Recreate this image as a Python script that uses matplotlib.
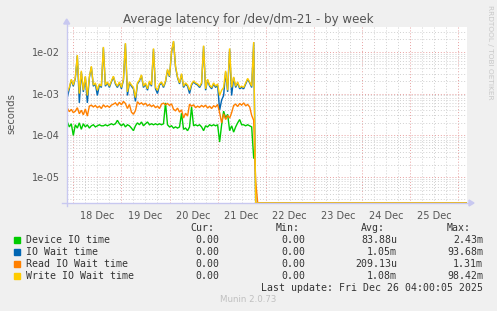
import matplotlib
matplotlib.use('Agg')
import matplotlib.pyplot as plt
import matplotlib.dates as mdates
from matplotlib.patches import Rectangle
from matplotlib.ticker import LogLocator, NullFormatter, FixedLocator
import numpy as np
import pandas as pd

# %% data, hourly samples from Dec 17 21:00 to Dec 26 04:00
start = '2025-12-17 21:00'
n_samples = 200

device_io = [2.1e-4, 1.6e-4, 1.9e-4, 1.0e-4, 1.8e-4, 1.5e-4, 2.0e-4, 1.4e-4, 1.9e-4, 1.6e-4,
             1.8e-4, 1.5e-4, 1.7e-4, 1.8e-4, 1.6e-4, 1.7e-4, 1.8e-4, 1.7e-4, 1.7e-4, 1.8e-4,
             1.7e-4, 1.8e-4, 1.9e-4, 1.8e-4, 1.9e-4, 2.3e-4, 1.9e-4, 1.7e-4, 1.9e-4, 1.6e-4,
             1.8e-4, 1.7e-4, 1.5e-4, 1.3e-4, 1.7e-4, 2.0e-4, 1.8e-4, 2.1e-4, 1.7e-4, 1.9e-4,
             2.1e-4, 1.8e-4, 1.9e-4, 1.8e-4, 1.9e-4, 1.8e-4, 1.9e-4, 1.8e-4, 1.9e-4, 6.0e-4,
             1.8e-4, 1.6e-4, 1.7e-4, 1.5e-4, 1.6e-4, 1.5e-4, 1.6e-4, 3.4e-4, 1.4e-4, 1.5e-4,
             1.3e-4, 1.6e-4, 4.8e-4, 1.7e-4, 1.8e-4, 1.7e-4, 1.8e-4, 1.6e-4, 1.3e-4, 1.7e-4,
             1.6e-4, 1.8e-4, 1.7e-4, 1.8e-4, 1.7e-4, 1.8e-4, 7.0e-5, 1.8e-4, 3.8e-4, 2.6e-4,
             3.2e-4, 1.3e-4, 1.7e-4, 1.2e-4, 1.6e-4, 2.0e-4, 2.4e-4, 1.8e-4, 1.8e-4, 1.7e-4,
             1.8e-4, 1.7e-4, 1.6e-4, 2.9e-5, np.nan]

io_wait = [8.0e-4, 1.3e-3, 2.1e-3, 1.5e-3, 2.3e-3, 8.0e-3, 6.0e-4, 3.3e-3, 1.1e-3, 2.5e-3,
           6.0e-4, 2.4e-3, 4.3e-3, 1.5e-3, 1.7e-3, 9.0e-4, 1.6e-3, 1.4e-3, 1.25e-2, 1.5e-3,
           1.8e-3, 1.4e-3, 1.9e-3, 2.5e-3, 1.7e-3, 1.4e-3, 1.8e-3, 1.3e-3, 2.1e-3, 1.55e-2,
           9.0e-4, 1.8e-3, 1.5e-3, 1.3e-3, 6.5e-4, 1.7e-3, 2.0e-3, 2.7e-3, 1.4e-3, 1.7e-3,
           1.2e-3, 1.9e-3, 1.5e-3, 1.15e-2, 1.3e-3, 1.0e-3, 1.6e-3, 1.8e-3, 1.4e-3, 1.9e-3,
           3.6e-3, 2.5e-3, 9.5e-3, 1.75e-2, 4.3e-3, 2.4e-3, 1.7e-3, 2.9e-3, 1.4e-3, 1.7e-3,
           1.5e-3, 1.0e-3, 1.6e-3, 1.9e-3, 1.7e-3, 1.6e-3, 1.4e-3, 1.7e-3, 1.35e-2, 1.2e-3,
           2.1e-3, 1.5e-3, 1.3e-3, 1.7e-3, 1.4e-3, 1.6e-3, 4.0e-4, 7.0e-4, 9.0e-4, 3.3e-3,
           1.1e-3, 1.15e-2, 9.0e-4, 2.4e-3, 1.4e-3, 1.8e-3, 1.3e-3, 1.4e-3, 1.3e-3, 1.7e-3,
           2.2e-3, 1.8e-3, 1.4e-3, 1.65e-2, 0]

read_wait = [4.5e-4, 3.7e-4, 4.2e-4, 3.5e-4, 3.8e-4, 4.6e-4, 3.3e-4, 4.0e-4, 3.1e-4, 4.3e-4,
             2.9e-4, 5.0e-4, 5.3e-4, 4.8e-4, 5.2e-4, 4.6e-4, 5.0e-4, 4.4e-4, 5.4e-4, 4.8e-4,
             5.1e-4, 4.7e-4, 5.3e-4, 5.6e-4, 6.0e-4, 5.2e-4, 6.2e-4, 5.4e-4, 6.5e-4, 5.8e-4,
             4.4e-4, 5.5e-4, 3.6e-4, 3.2e-4, 3.9e-4, 6.4e-4, 5.6e-4, 6.0e-4, 5.4e-4, 5.9e-4,
             5.1e-4, 5.5e-4, 4.9e-4, 5.3e-4, 4.6e-4, 5.0e-4, 4.4e-4, 5.6e-4, 5.9e-4, 5.4e-4,
             5.8e-4, 5.2e-4, 5.7e-4, 4.2e-4, 3.9e-4, 4.5e-4, 3.6e-4, 4.1e-4, 2.6e-4, 3.4e-4,
             2.9e-4, 5.6e-4, 5.0e-4, 5.4e-4, 4.6e-4, 5.0e-4, 4.7e-4, 5.2e-4, 4.8e-4, 5.3e-4,
             4.5e-4, 5.0e-4, 4.4e-4, 5.1e-4, 4.8e-4, 5.5e-4, 3.5e-4, 2.0e-4, 3.3e-4, 2.4e-4,
             3.0e-4, 2.6e-4, 3.5e-4, 5.2e-4, 5.6e-4, 4.9e-4, 5.8e-4, 5.3e-4, 6.0e-4, 5.1e-4,
             5.5e-4, 4.8e-4, 3.0e-4, 2.3e-4, 8.0e-6]

write_wait = [1.1e-3, 1.4e-3, 2.2e-3, 1.6e-3, 2.4e-3, 8.3e-3, 1.0e-3, 3.5e-3, 1.2e-3, 2.6e-3,
              9.0e-4, 2.5e-3, 4.5e-3, 1.6e-3, 1.8e-3, 1.2e-3, 1.7e-3, 1.5e-3, 1.3e-2, 1.6e-3,
              1.9e-3, 1.5e-3, 2.0e-3, 2.6e-3, 1.8e-3, 1.5e-3, 1.9e-3, 1.4e-3, 2.2e-3, 1.6e-2,
              1.1e-3, 1.9e-3, 1.6e-3, 1.4e-3, 8.0e-4, 1.8e-3, 2.1e-3, 2.8e-3, 1.5e-3, 1.8e-3,
              1.3e-3, 2.0e-3, 1.6e-3, 1.2e-2, 1.4e-3, 1.2e-3, 1.7e-3, 1.9e-3, 1.5e-3, 2.0e-3,
              3.8e-3, 2.6e-3, 1.0e-2, 1.8e-2, 4.5e-3, 2.5e-3, 1.8e-3, 3.0e-3, 1.5e-3, 1.8e-3,
              1.6e-3, 1.2e-3, 1.7e-3, 2.0e-3, 1.8e-3, 1.7e-3, 1.5e-3, 1.8e-3, 1.4e-2, 1.3e-3,
              2.2e-3, 1.6e-3, 1.4e-3, 1.8e-3, 1.5e-3, 1.7e-3, 9.0e-4, 1.2e-3, 1.4e-3, 3.5e-3,
              1.2e-3, 1.2e-2, 1.4e-3, 2.5e-3, 1.5e-3, 1.9e-3, 1.4e-3, 1.5e-3, 1.4e-3, 1.8e-3,
              2.3e-3, 1.9e-3, 1.5e-3, 1.7e-2, 0]

labels = ['Device IO time', 'IO Wait time', 'Read IO Wait time', 'Write IO Wait time']
colors = ['#00CC00', '#0066B3', '#FF8000', '#FFCC00']
cur = ['0.00', '0.00', '0.00', '0.00']
mins = ['0.00', '0.00', '0.00', '0.00']
avgs = ['83.88u', '1.05m', '209.13u', '1.08m']
maxs = ['2.43m', '93.68m', '1.31m', '98.42m']

# %%
W, H = 497, 311
ymin, ymax = 2.44e-6, 3.95e-2
times = pd.date_range(start, periods=n_samples, freq='h')

def pad(vals):
    v = np.concatenate([np.array(vals, dtype=float), np.zeros(n_samples - len(vals))])
    return np.where(v > 0, v, np.where(np.isnan(v), np.nan, ymin))

fig = plt.figure(figsize=(W/100, H/100), dpi=100, facecolor='#F0F0F0')
ax = fig.add_axes([66.7/W, 1-203/H, (467-66.7)/W, (203-26.7)/H], facecolor='white')

for vals, c in zip([device_io, io_wait, read_wait, write_wait], colors):
    ax.plot(times, pad(vals), color=c, lw=1.0, solid_joinstyle='miter')

ax.set_yscale('log')
ax.set_ylim(ymin, ymax)
x0 = pd.Timestamp('2025-12-17 20:42')
x1 = pd.Timestamp('2025-12-26 04:26')
ax.set_xlim(x0, x1)

# grids
ax.yaxis.set_major_locator(LogLocator(base=10, numticks=10))
ax.yaxis.set_minor_locator(LogLocator(base=10, subs=np.arange(2, 10), numticks=20))
ax.yaxis.set_minor_formatter(NullFormatter())
ax.yaxis.set_major_formatter(plt.FuncFormatter(lambda v, p: '%.0e' % v))
ax.grid(True, which='major', axis='y', color='#E8A0A0', ls=(0, (1, 2)), lw=0.7)
ax.grid(True, which='minor', axis='y', color='#D0D0D0', ls=(0, (1, 2)), lw=0.7)

noons = pd.date_range('2025-12-18 12:00', '2025-12-25 12:00', freq='D')
ax.xaxis.set_major_locator(FixedLocator(mdates.date2num(noons)))
ax.xaxis.set_major_formatter(mdates.DateFormatter('%d Dec'))
ax.xaxis.set_minor_locator(mdates.HourLocator(byhour=[6, 18]))
ax.grid(True, which='both', axis='x', color='#D0D0D0', ls=(0, (1, 2)), lw=0.7)
for d in pd.date_range('2025-12-18', '2025-12-26', freq='D'):
    ax.axvline(d, color='#E8A0A0', ls=(0, (1, 2)), lw=0.7, zorder=0.5)

ax.tick_params(which='both', length=0, labelsize=7, colors='#555555', pad=6)
ax.tick_params(axis='y', pad=5)
for s in ax.spines.values():
    s.set_visible(False)
ax.set_axisbelow(True)

# axis lines with arrows
axis_c = '#C8C8F0'
fig.add_artist(plt.Line2D([66.7/W, 66.7/W], [1-206/H, 1-22/H], color=axis_c, lw=1))
fig.add_artist(plt.Line2D([62/W, 471/W], [1-203/H, 1-203/H], color=axis_c, lw=1))
fig.add_artist(plt.Polygon([[63.7/W, 1-24/H], [69.7/W, 1-24/H], [66.7/W, 1-19/H]],
                           closed=True, color=axis_c, transform=fig.transFigure))
fig.add_artist(plt.Polygon([[469/W, 1-200/H], [469/W, 1-206/H], [474/W, 1-203/H]],
                           closed=True, color=axis_c, transform=fig.transFigure))

fig.text(248/W, 1-19/H, 'Average latency for /dev/dm-21 - by week', ha='center', va='center',
         fontsize=8.6, color='#555555')
fig.text(11/W, 1-114/H, 'seconds', rotation=90, ha='center', va='center', fontsize=7.2, color='#555555')
fig.text(490/W, 1-5/H, 'RRDTOOL / TOBI OETIKER', rotation=270, ha='center', va='top',
         fontsize=5.3, color='#C8C8C8')

# legend
mono = dict(family='DejaVu Sans Mono', fontsize=7.1, color='#333333', va='center')
for txt, xr in zip(['Cur:', 'Min:', 'Avg:', 'Max:'], [214, 300, 385, 471]):
    fig.text(xr/W, 1-228/H, txt, ha='right', **mono)
for i, lab in enumerate(labels):
    y = 240 + i*12
    fig.add_artist(Rectangle((14/W, 1-(y+3)/H), 6/W, 6/H, color=colors[i], transform=fig.transFigure))
    fig.text(26/W, 1-y/H, lab, ha='left', **mono)
    for val, xr in zip([cur[i], mins[i], avgs[i], maxs[i]], [219, 305, 397, 483]):
        fig.text(xr/W, 1-y/H, val, ha='right', **mono)
fig.text(483/W, 1-288/H, 'Last update: Fri Dec 26 04:00:05 2025', ha='right', **mono)
fig.text(248/W, 1-300/H, 'Munin 2.0.73', ha='center', va='center', fontsize=6.2, color='#C0C0C0')

fig.savefig('out.png', dpi=100, facecolor=fig.get_facecolor())
